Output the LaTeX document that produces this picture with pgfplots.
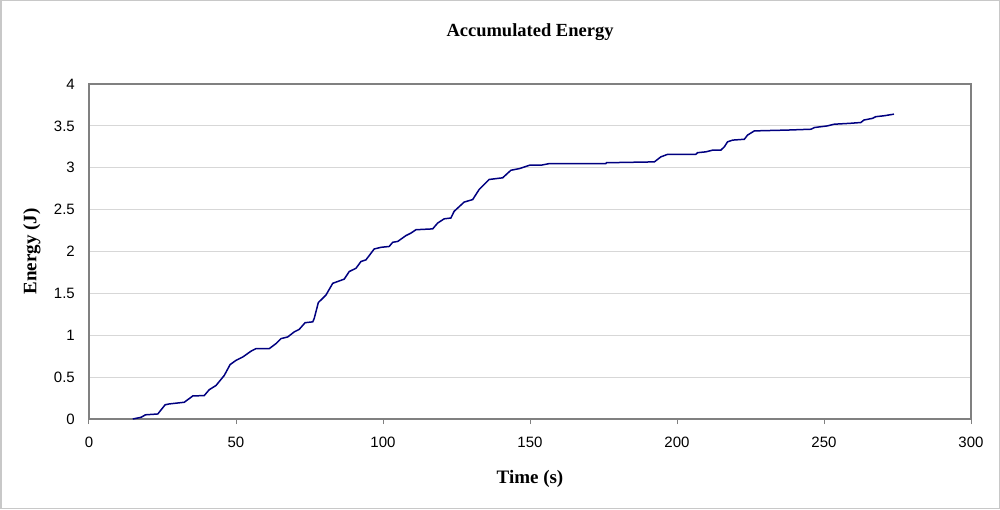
\documentclass[border=0pt]{standalone}
\usepackage{fontspec}
\setmainfont{Liberation Serif}
\newfontfamily\arialfont{Liberation Sans}
\usepackage{pgfplots}
\pgfplotsset{compat=1.18}
\definecolor{framegray}{RGB}{200,200,200}
\definecolor{axisgray}{RGB}{128,128,128}
\definecolor{gridgray}{RGB}{215,215,215}
\definecolor{navyline}{RGB}{0,0,128}
\begin{document}
\begin{tikzpicture}
\useasboundingbox (0,0) rectangle (1000pt,509pt);
\draw[framegray, line width=1.5pt] (0.75pt,0.75pt) rectangle (999.25pt,508.25pt);
\begin{axis}[
  at={(89pt,90pt)}, anchor=south west,
  scale only axis, width=882pt, height=335pt,
  xmin=0, xmax=300, ymin=0, ymax=4,
  xtick={0,50,...,300}, ytick={0,0.5,...,4},
  axis line style={axisgray, line width=1.2pt},
  ymajorgrids, grid style={gridgray, line width=1pt},
  tick align=outside, major tick length=5pt,
  x tick style={axisgray, line width=1pt},
  y tick style={draw=none},
  xtick pos=bottom, ytick pos=left,
  /pgf/number format/assume math mode=true,
  ticklabel style={font=\arialfont\fontsize{15}{15}\selectfont, inner sep=0pt},
  yticklabel style={anchor=east, xshift=-14pt+\pgfkeysvalueof{/pgfplots/major tick length}},
  xticklabel style={anchor=north, yshift=-13pt},
  title={Accumulated Energy},
  title style={font=\bfseries\fontsize{18.5}{18.5}\selectfont, at={(0.5,1)}, anchor=center, yshift=46pt},
  xlabel={Time (s)},
  xlabel style={font=\bfseries\fontsize{19}{19}\selectfont, at={(0.5,0)}, anchor=center, yshift=-60pt},
  ylabel={Energy (J)},
  ylabel style={font=\bfseries\fontsize{19}{19}\selectfont, at={(0,0.5)}, anchor=center, yshift=57pt},
]
\addplot[navyline, line width=1.5pt, mark=none] coordinates {
(14.9,0) (17.7,0.02) (19.2,0.05) (23.4,0.06) (25.9,0.17) (27.3,0.18)
(32.4,0.20) (35.3,0.275) (39.2,0.28) (40.9,0.35) (43.2,0.40) (46.0,0.52)
(48.0,0.65) (50.0,0.70) (52.3,0.74) (55.1,0.81) (56.8,0.84) (61.3,0.84)
(63.6,0.90) (65.3,0.96) (67.6,0.98) (69.8,1.04) (71.5,1.07) (73.5,1.15)
(76.1,1.16) (76.6,1.20) (78.0,1.39) (80.6,1.48) (82.9,1.62) (86.8,1.67)
(88.5,1.76) (90.8,1.80) (92.5,1.88) (94.2,1.90) (97.0,2.03) (99.3,2.05)
(102.1,2.06) (103.3,2.11) (105.0,2.12) (107.8,2.19) (109.5,2.22) (111.2,2.26)
(116.9,2.27) (118.6,2.34) (120.8,2.39) (123.1,2.40) (124.2,2.48) (127.6,2.59)
(130.5,2.62) (132.7,2.74) (136.1,2.86) (140.7,2.88) (143.5,2.97) (146.4,2.99)
(149.8,3.03) (153.7,3.03) (156.6,3.05) (175.8,3.05) (176.0,3.06) (192.3,3.07)
(194.5,3.13) (196.8,3.16) (206.4,3.16) (207.0,3.18) (209.8,3.19) (212.1,3.21)
(214.9,3.21) (216.1,3.25) (217.2,3.31) (218.9,3.33) (222.9,3.34) (224.0,3.39)
(226.3,3.44) (237.6,3.45) (245.6,3.46) (246.7,3.48) (251.2,3.50) (253.5,3.52)
(258.6,3.53) (262.5,3.54) (263.6,3.57) (266.5,3.59) (267.6,3.61) (270.3,3.62)
(273.8,3.64)
};
\end{axis}
\end{tikzpicture}
\end{document}
